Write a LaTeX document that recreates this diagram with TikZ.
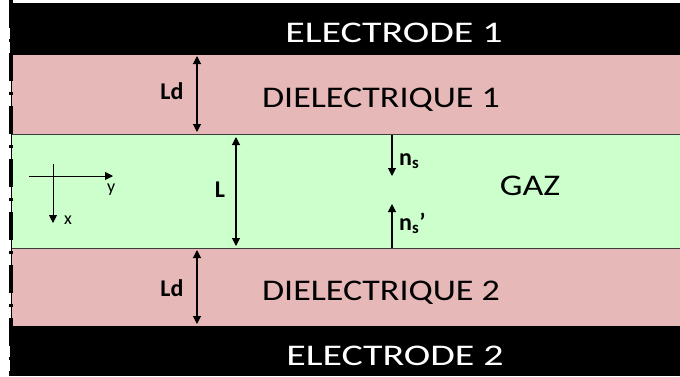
\documentclass[tikz,border=0pt]{standalone}
\usepackage{fontspec}
\setmainfont{Carlito}
\usetikzlibrary{arrows.meta,positioning,calc}
\definecolor{diel}{HTML}{E6B8B7}
\definecolor{gas}{HTML}{CCFFCC}
\definecolor{rim}{HTML}{3C3C3C}
\tikzset{
  layer/.style={anchor=north west,minimum width=668pt,inner sep=0pt,outer sep=0pt},
  title/.style={font=\fontsize{30}{30}\selectfont,inner sep=0pt,anchor=base,xscale=1.2,transform shape},
  etitle/.style={title,text=white,xscale=1.11},
  tag/.style={font=\fontsize{24}{24}\selectfont\bfseries,inner sep=0pt,anchor=base},
  axlbl/.style={font=\fontsize{18}{18}\selectfont,inner sep=0pt,anchor=base west},
  dim/.style={{Triangle[length=8pt,width=8pt]}-{Triangle[length=8pt,width=8pt]},line width=1.1pt},
  ar/.style={-{Triangle[length=8pt,width=8pt]},line width=1.1pt},
}
\begin{document}
\begin{tikzpicture}[x=1pt,y=-1pt]
\useasboundingbox[fill=white] (0,0) rectangle (680,376);
% layers
\node[layer,fill=black,minimum height=52pt,minimum width=670pt] (elec1) at (10,3) {};
\node[layer,fill=diel,minimum height=79pt] (diel1) at (12,55) {};
\node[layer,fill=gas,minimum height=114pt] (gaz) at (12,134) {};
\node[layer,fill=diel,minimum height=78pt] (diel2) at (12,248) {};
\node[layer,fill=black,minimum height=50pt,minimum width=670pt] (elec2) at (10,326) {};
\draw[rim,line width=1pt] (gaz.north west) -- (gaz.north east);
\draw[rim,line width=1pt] (gaz.south west) -- (gaz.south east);
% left edge
\coordinate (top) at (11,0);
\coordinate (bot) at (11,376);
\draw[line width=1pt] (top) -- (bot);
\draw[line width=3.5pt,dash pattern=on 28pt off 11pt on 3pt off 11pt] (top) -- (bot);
% texts
\node[etitle] (t1) at (394,42) {ELECTRODE 1};
\node[title] (t2) at (381,107) {DIELECTRIQUE 1};
\node[title] (t3) at (530,195) {GAZ};
\node[title] (t4) at (381,300) {DIELECTRIQUE 2};
\node[etitle] (t5) at (395,365) {ELECTRODE 2};
% dimensions
\coordinate (d1a) at (197,56);
\coordinate (d1b) at (197,132);
\draw[dim] (d1a) -- (d1b);
\node[tag] (ld1) at (172,99) {Ld};
\coordinate (la) at (236,137);
\coordinate (lb) at (236,246);
\draw[dim] (la) -- (lb);
\node[tag] (l) at (220,197) {L};
\coordinate (d2a) at (197,250);
\coordinate (d2b) at (197,324);
\draw[dim] (d2a) -- (d2b);
\node[tag] (ld2) at (172,296) {Ld};
% surface charges
\coordinate (na) at (392,135);
\coordinate (nb) at (392,176);
\draw[ar] (na) -- (nb);
\node[tag,anchor=base west] (ns) at (399,165) {n\textsubscript{s}};
\coordinate (nc) at (392,248);
\coordinate (nd) at (392,204);
\draw[ar] (nc) -- (nd);
\node[tag,anchor=base west] (ns2) at (399,230) {n\textsubscript{s}’};
% axes
\coordinate (o1) at (29,176);
\coordinate (o2) at (113,176);
\coordinate (o3) at (53,164);
\coordinate (o4) at (53,223);
\draw[ar,line width=0.9pt] (o1) -- (o2);
\draw[ar,line width=0.9pt] (o3) -- (o4);
\node[axlbl] (ay) at (107,192) {y};
\node[axlbl] (ax) at (64,224) {x};
\end{tikzpicture}
\end{document}
